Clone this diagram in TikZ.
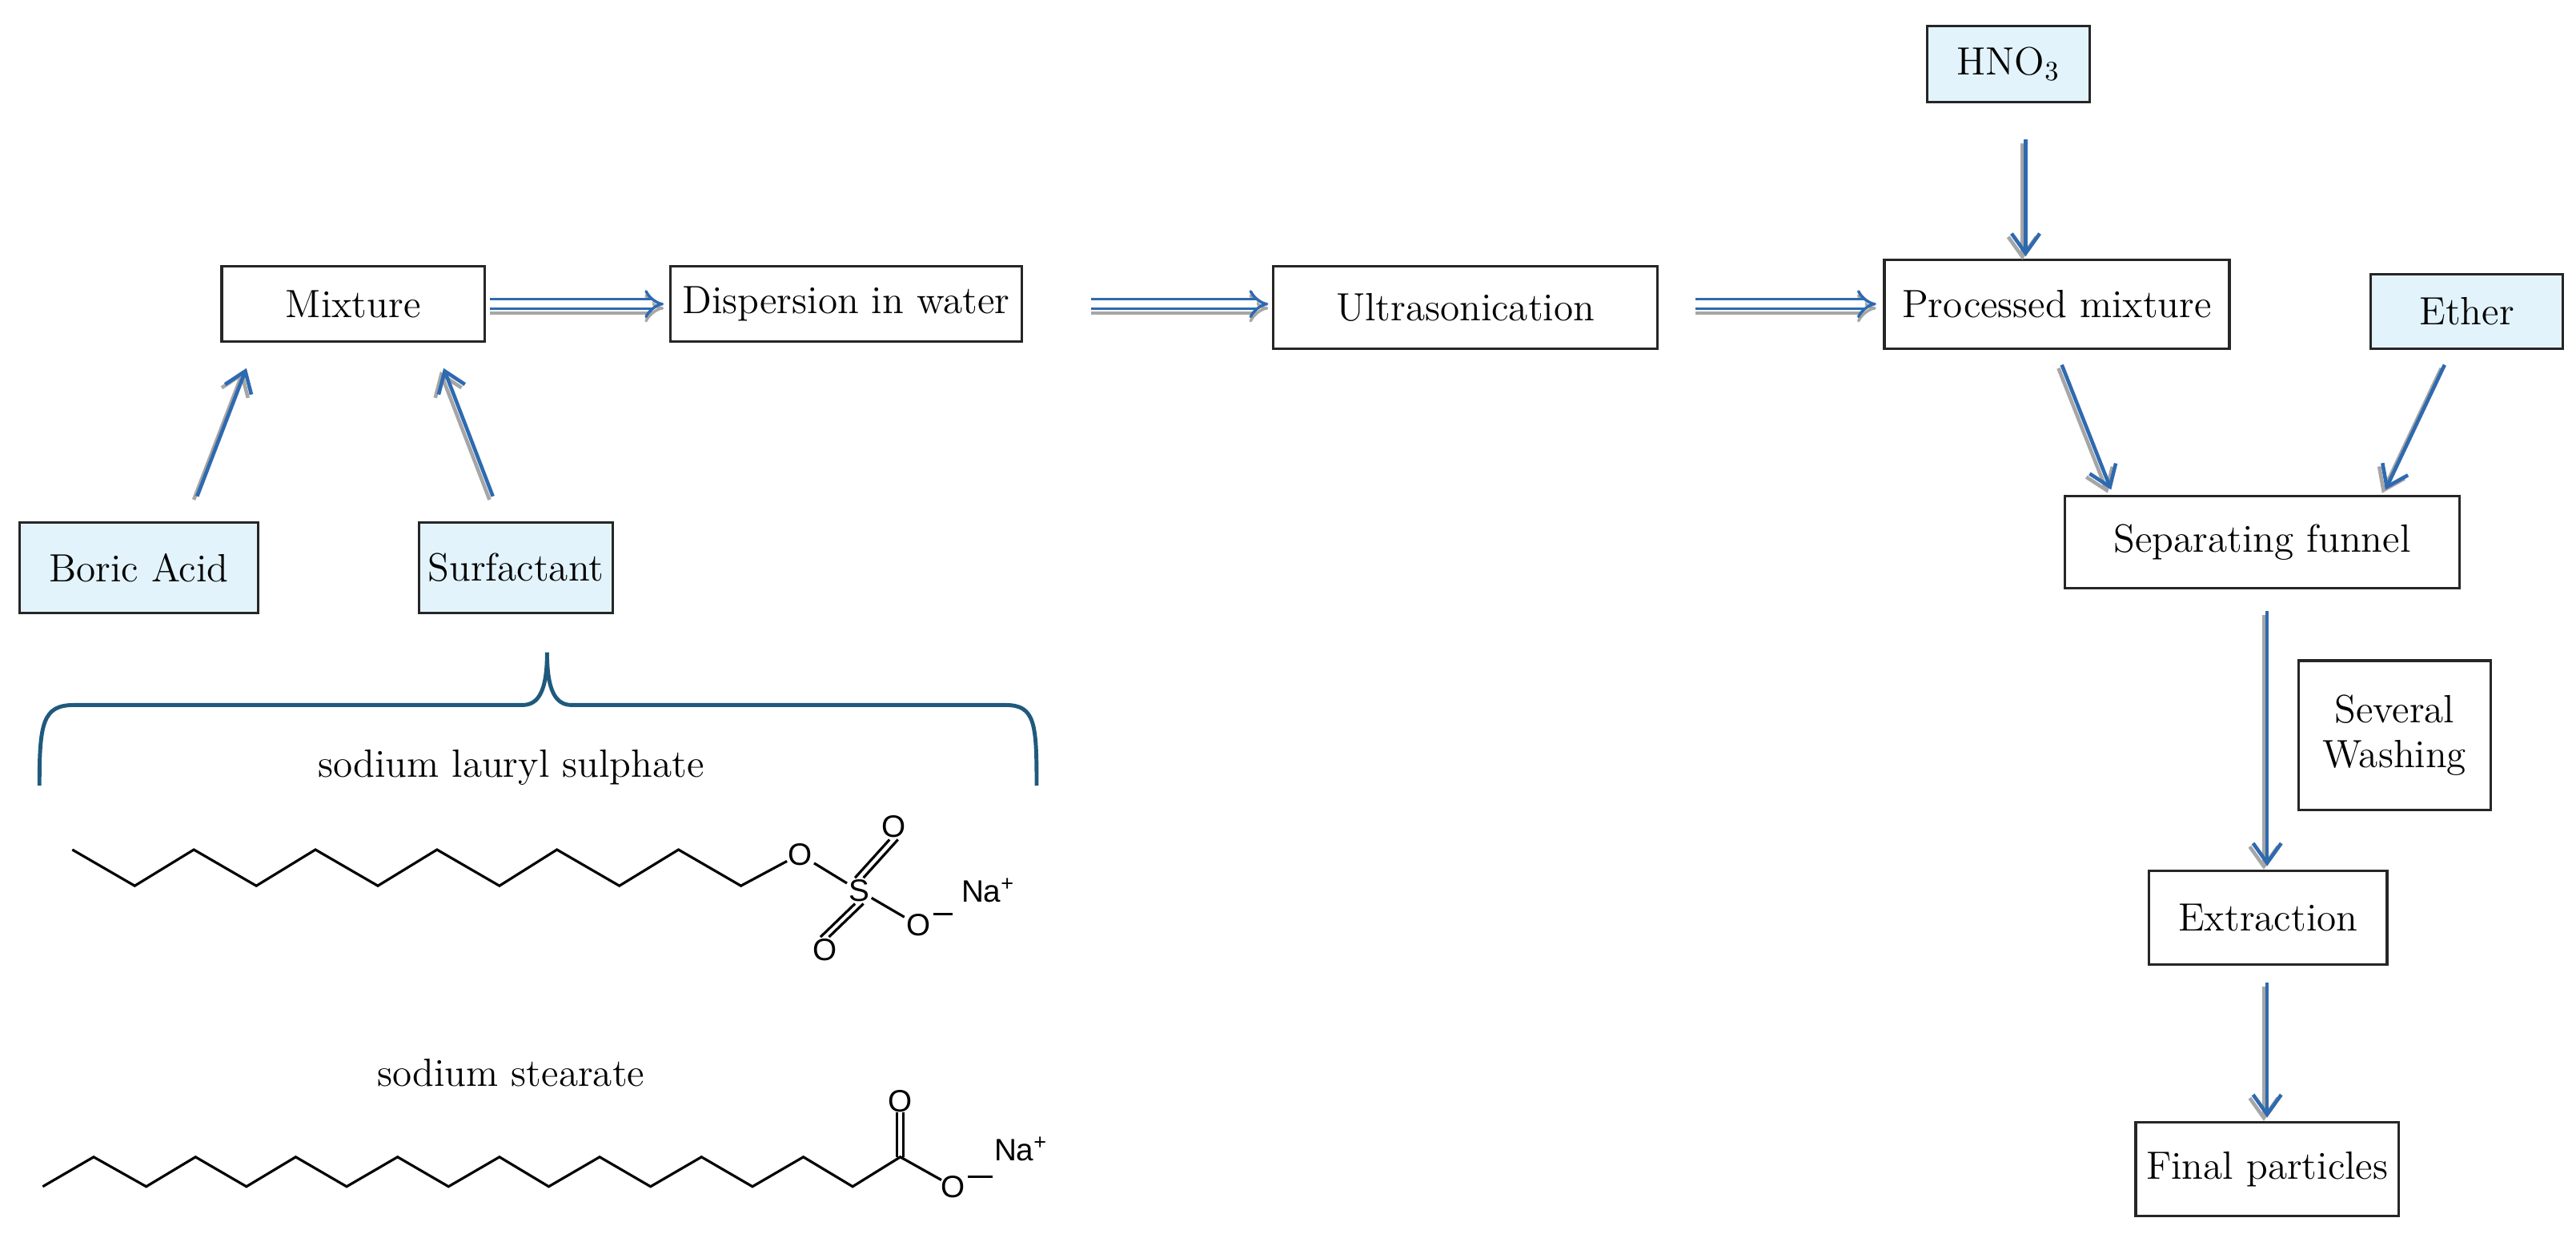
\documentclass[tikz,border=0pt]{standalone}
\usepackage{fontspec}
\newfontfamily\chemf{Liberation Sans}
\usetikzlibrary{arrows.meta,fit}
\definecolor{arr}{RGB}{46,106,176}
\definecolor{lb}{RGB}{226,243,251}
\definecolor{brc}{RGB}{31,90,125}
\begin{document}
\begin{tikzpicture}[x=0.02052cm,y=-0.02052cm,
  box/.style={draw=black!85,line width=0.9pt,inner sep=0pt},
  inbox/.style={box,fill=lb},
  lbl/.style={font=\fontsize{14}{16}\selectfont,align=center,inner sep=0pt},
  sh/.style={draw=gray!70,line width=1.3pt,-{Straight Barb[length=7pt,width=10pt]}},
  ar/.style={draw=arr,line width=1.3pt,-{Straight Barb[length=7pt,width=10pt]}},
  dsh/.style={draw=gray!70,line width=1pt,double=white,double distance=2.4pt,-{Implies[length=9pt,width=15pt]}},
  dar/.style={draw=arr,line width=1pt,double=white,double distance=2.4pt,-{Implies[length=9pt,width=15pt]}},
  bond/.style={line width=0.9pt,black},
  ch/.style={font=\chemf\fontsize{11}{12}\selectfont,inner sep=0.5pt}]
\useasboundingbox (0,0) rectangle (1568,753);
\fill[white] (0,0) rectangle (1568,753);
% boxes
\node[box,fit={(135,162) (295,208)}] (mix) {};
\node[box,fit={(408,162) (622,208)}] (disp) {};
\node[box,fit={(775,162) (1009,212)}] (ultra) {};
\node[box,fit={(1147,158) (1357,212)}] (proc) {};
\node[inbox,fit={(1173,16) (1272,62)}] (hno) {};
\node[inbox,fit={(1443,167) (1560,212)}] (ether) {};
\node[box,fit={(1257,302) (1497,358)}] (sep) {};
\node[box,fit={(1399,402) (1516,493)}] (wash) {};
\node[box,fit={(1308,530) (1453,587)}] (ext) {};
\node[box,fit={(1300,683) (1460,740)}] (fin) {};
\node[inbox,fit={(12,318) (157,373)}] (boric) {};
\node[inbox,fit={(255,318) (373,373)}] (surf) {};
\node[lbl] at (mix) {Mixture};
\node[lbl] at (disp) {Dispersion in water};
\node[lbl] at (ultra) {Ultrasonication};
\node[lbl] at (proc) {Processed mixture};
\node[lbl] at (hno) {HNO\textsubscript{3}};
\node[lbl] at (ether) {Ether};
\node[lbl] at (sep) {Separating funnel};
\node[lbl] at (wash) {Several\\Washing};
\node[lbl] at (ext) {Extraction};
\node[lbl] at (fin) {Final particles};
\node[lbl] at (boric) {Boric Acid};
\node[lbl] at (surf) {Surfactant};
% arrow coordinates
\coordinate (b1) at (120,302); \coordinate (b2) at (150,224);
\coordinate (s1) at (300,302); \coordinate (s2) at (270,224);
\coordinate (h1) at (1233,85); \coordinate (h2) at (1233,156);
\coordinate (p1) at (1255,222); \coordinate (p2) at (1285,298);
\coordinate (e1) at (1488,222); \coordinate (e2) at (1452,298);
\coordinate (f1) at (1380,372); \coordinate (f2) at (1380,527);
\coordinate (g1) at (1380,598); \coordinate (g2) at (1380,680);
\coordinate (d1) at (298,185); \coordinate (d2) at (404,185);
\coordinate (d3) at (664,185); \coordinate (d4) at (772,185);
\coordinate (d5) at (1032,185); \coordinate (d6) at (1142,185);
\foreach \a/\b in {b1/b2,s1/s2,h1/h2,p1/p2,e1/e2,f1/f2,g1/g2}{
  \draw[sh,transform canvas={shift={(-1.2pt,-1.2pt)}}] (\a) -- (\b);
  \draw[ar] (\a) -- (\b);}
\foreach \a/\b in {d1/d2,d3/d4,d5/d6}{
  \draw[dsh,transform canvas={shift={(0pt,-1.5pt)}}] (\a) -- (\b);
  \draw[dar] (\a) -- (\b);}
% brace
\draw[brc,line width=1.4pt] (24,478) .. controls (24,440) and (26,429) .. (45,429) -- (318,429)
  .. controls (328,429) and (333,420) .. (333,397)
  .. controls (333,420) and (338,429) .. (348,429) -- (612,429)
  .. controls (630,429) and (631,440) .. (631,478);
\node[lbl] (t1) at (311,467) {sodium lauryl sulphate};
\node[lbl] (t2) at (311,653) {sodium stearate};
% SLS
\draw[bond] (44,517) -- (82,539) -- (118,517) -- (156,539) -- (192,517) -- (230,539) -- (266,517)
 -- (304,539) -- (339,517) -- (377,539) -- (413,517) -- (451,539) -- (479,524);
\node[ch] (o1) at (487,520) {O};
\node[ch] (s) at (523,542) {S};
\node[ch] (o2) at (544,503) {O};
\node[ch] (o3) at (502,578) {O};
\node[ch] (o4) at (559,563) {O};
\node[ch,anchor=west] (na1) at (584,542) {Na\textsuperscript{+}};
\draw[bond] (o1) -- (s);
\draw[bond] (s) -- (o4);
\draw[bond] ([xshift=-1.5pt]s.north) -- ([xshift=-1.5pt]o2.south);
\draw[bond] ([xshift=1.5pt]s.north) -- ([xshift=1.5pt]o2.south);
\draw[bond] ([xshift=-1.5pt]s.south) -- ([xshift=-1.5pt]o3.north);
\draw[bond] ([xshift=1.5pt]s.south) -- ([xshift=1.5pt]o3.north);
\draw[bond] (568,556) -- (580,556);
% stearate
\draw[bond] (26,722) -- (57,704) -- (89,722) -- (119,704) -- (150,722) -- (180,704) -- (211,722)
 -- (242,704) -- (273,722) -- (304,704) -- (334,722) -- (365,704) -- (396,722) -- (427,704)
 -- (458,722) -- (489,704) -- (519,722) -- (548,704) -- (573,718);
\node[ch] (o5) at (548,670) {O};
\node[ch] (o6) at (580,722) {O};
\node[ch,anchor=west] (na2) at (604,699) {Na\textsuperscript{+}};
\draw[bond] (546,704) -- (546,677);
\draw[bond] (550,704) -- (550,677);
\draw[bond] (589,716) -- (604,716);
\end{tikzpicture}
\end{document}
